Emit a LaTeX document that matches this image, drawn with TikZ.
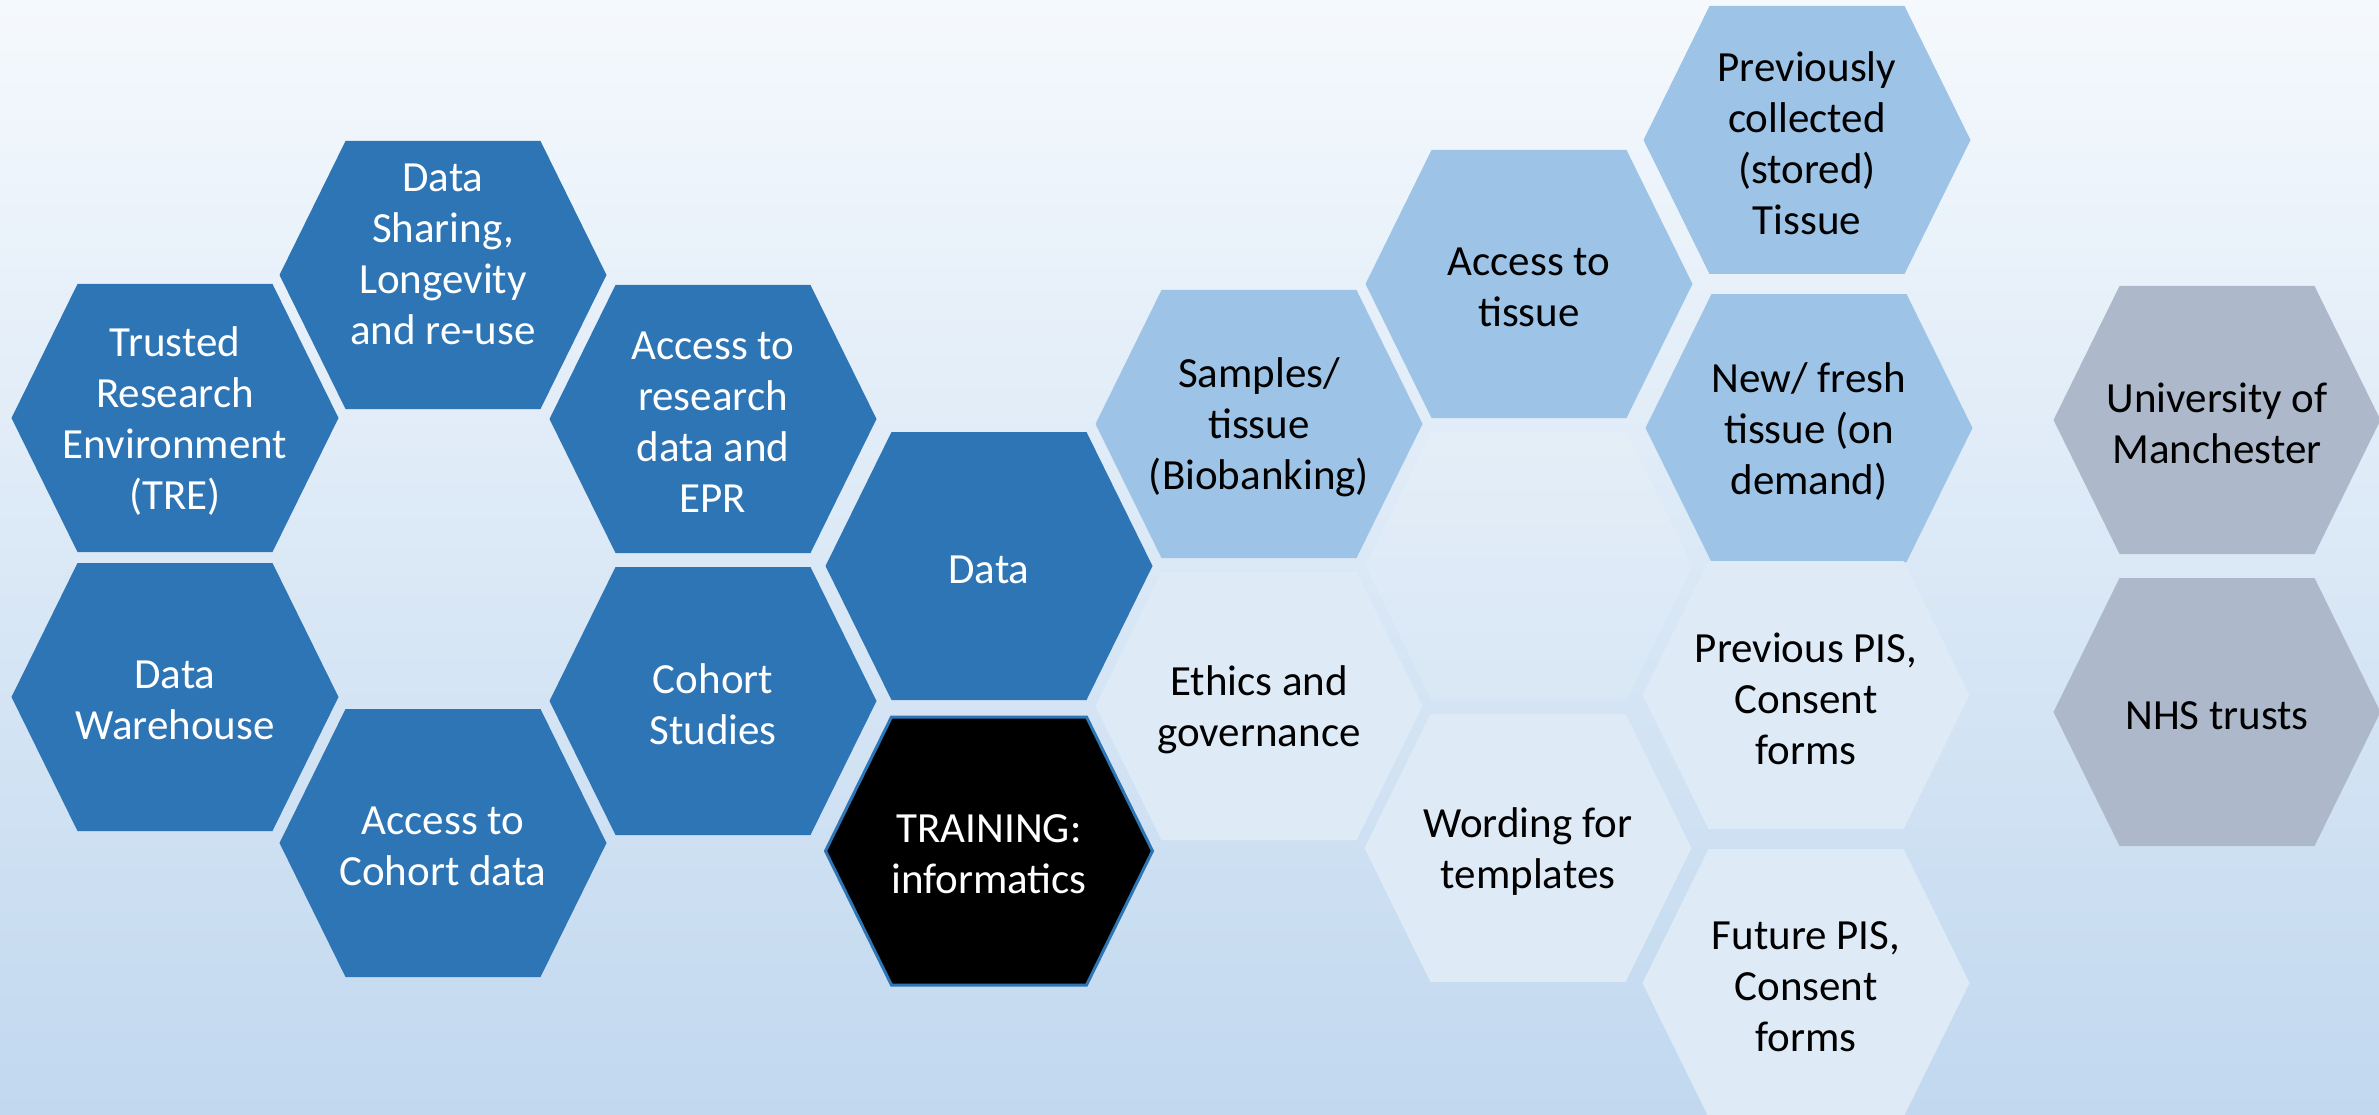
\documentclass[tikz,border=0pt]{standalone}
\usepackage{fontspec}
\setmainfont{Carlito}
\definecolor{darkblue}{RGB}{46,117,182}
\definecolor{lightblue}{RGB}{157,195,230}
\definecolor{paleblue}{RGB}{222,235,247}
\definecolor{greyblue}{RGB}{173,185,202}
\definecolor{bgtop}{RGB}{245,249,253}
\definecolor{bgbot}{RGB}{193,216,239}
\tikzset{
  hexdark/.style={fill=darkblue},
  hexlight/.style={fill=lightblue},
  hexpale/.style={fill=paleblue},
  hexghost/.style={fill=white, fill opacity=0.12},
  hexgrey/.style={fill=greyblue},
  hexblack/.style={fill=black, draw=darkblue, line width=3pt},
  lbl/.style={align=center, font=\fontsize{43}{51}\selectfont, inner sep=0pt, text=black, yshift=-3.5pt},
  lblw/.style={lbl, text=white},
}
\newcommand\hexcell[6]{%
  \path[#4,shift={(#2,#3)}] (-163.5,0) -- (-97.5,-134) -- (97.5,-134) -- (163.5,0) -- (97.5,134) -- (-97.5,134) -- cycle;
  \node[#5] (#1) at (#2,#3) {#6};
}
\begin{document}
\begin{tikzpicture}[x=1pt,y=-1pt]
\useasboundingbox (0,0) rectangle (2379,1115);
\shade[top color=bgtop, bottom color=bgbot] (0,0) rectangle (2379,1115);
% dark blue cluster
\hexcell{tre}{175}{418}{hexdark}{lblw}{Trusted\\Research\\Environment\\(TRE)}
\hexcell{dw}{175}{697}{hexdark}{lblw}{Data\\Warehouse}
\hexcell{ds}{443}{275}{hexdark}{lblw}{}
\node[lblw] (dstext) at (443,251) {Data\\Sharing,\\Longevity\\and re-use};
\hexcell{ac}{443}{843}{hexdark}{lblw}{Access to\\Cohort data}
\hexcell{ar}{713}{419}{hexdark}{lblw}{Access to\\research\\data and\\EPR}
\hexcell{cs}{713}{701}{hexdark}{lblw}{Cohort\\Studies}
\hexcell{data}{989}{566}{hexdark}{lblw}{Data}
\hexcell{train}{989}{851}{hexblack}{lblw}{TRAINING:\\informatics}
% light blue / pale cluster
\hexcell{ghost}{1529}{566}{hexghost}{lbl}{}
\hexcell{samples}{1259}{424}{hexlight}{lbl}{Samples/\\tissue\\(Biobanking)}
\hexcell{ethics}{1259}{706}{hexpale}{lbl}{Ethics and\\governance}
\hexcell{at}{1529}{284}{hexlight}{lbl}{Access to\\tissue}
\hexcell{word}{1528}{848}{hexpale}{lbl}{Wording for\\templates}
\hexcell{prev}{1807}{140}{hexlight}{lbl}{Previously\\collected\\(stored)\\Tissue}
\hexcell{new}{1809}{428}{hexlight}{lbl}{New/ fresh\\tissue (on\\demand)}
\hexcell{ppis}{1806}{695}{hexpale}{lbl}{Previous PIS,\\Consent\\forms}
\hexcell{fpis}{1806}{983}{hexpale}{lbl}{Future PIS,\\Consent\\forms}
% grey
\hexcell{uom}{2217}{420}{hexgrey}{lbl}{University of\\Manchester}
\hexcell{nhs}{2217}{712}{hexgrey}{lbl}{NHS trusts}
\end{tikzpicture}
\end{document}
